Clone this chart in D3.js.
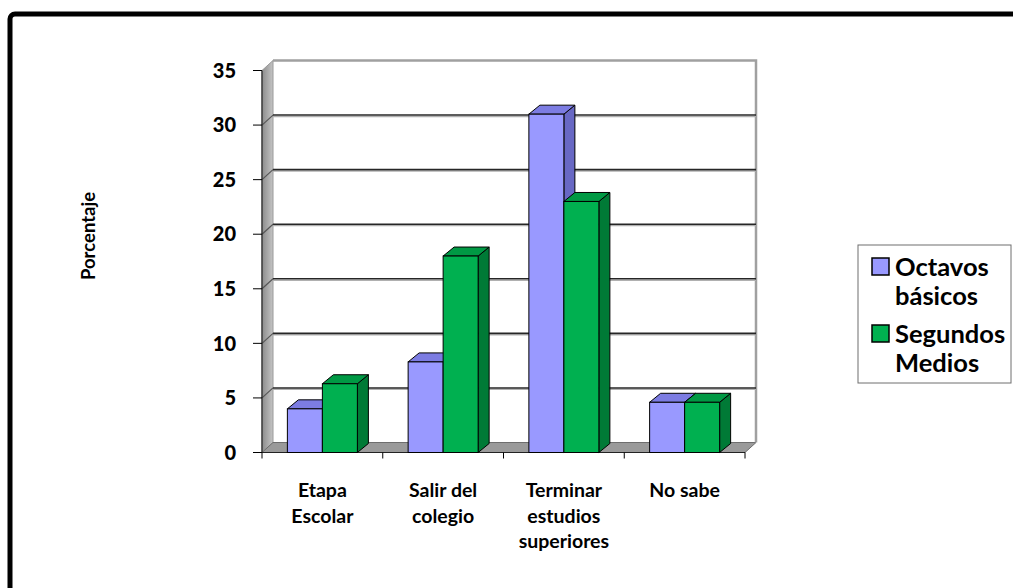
<!DOCTYPE html>
<html>
<head>
<meta charset="utf-8">
<script src="https://cdn.jsdelivr.net/npm/d3@7"></script>
<style>
  body { margin: 0; background: #fff; }
  text { font-family: Lato, "Open Sans", sans-serif; font-weight: bold; fill: #000; }
</style>
</head>
<body>
<svg id="chart" width="1013" height="588"></svg>
<script>
// data
const categories = [["Etapa", "Escolar"], ["Salir del", "colegio"], ["Terminar", "estudios", "superiores"], ["No sabe"]];
const seriesNames = [["Octavos", "básicos"], ["Segundos", "Medios"]];
const octavos = [4.0, 8.3, 31, 4.6];
const segundos = [6.3, 18, 23, 4.6];
const yTicks = [0, 5, 10, 15, 20, 25, 30, 35];

const colors = [
  { front: "#9999ff", side: "#6868c4", top: "#7c7ce2" },
  { front: "#00b050", side: "#007a36", top: "#009944" }
];

const svg = d3.select("#chart");

// outer frame, running off the right and bottom edges
svg.append("rect")
  .attr("x", 10).attr("y", 14)
  .attr("width", 1040).attr("height", 620)
  .attr("rx", 5)
  .attr("fill", "none")
  .attr("stroke", "#000")
  .attr("stroke-width", 5);

const plot = { left: 262, right: 745 };
const depth = { dx: 11, dy: -10 }; // wall depth
const barDepth = { dx: 11, dy: -9 };

const y = d3.scaleLinear().domain([0, 35]).range([452.5, 70.5]);
const x0 = d3.scaleBand().domain(d3.range(categories.length)).range([plot.left, plot.right]);
const x1 = d3.scaleBand().domain([0, 1]).range([0, x0.bandwidth()]).paddingInner(0).paddingOuter(0.725);

const g = svg.append("g");

// left side wall
const wallGrad = svg.append("defs").append("linearGradient")
  .attr("id", "wallGrad").attr("x1", "0%").attr("x2", "100%");
wallGrad.append("stop").attr("offset", "0%").attr("stop-color", "#8c8c8c");
wallGrad.append("stop").attr("offset", "100%").attr("stop-color", "#c4c4c4");

g.append("polygon")
  .attr("points", [
    [plot.left, y(0)], [plot.left, y(35)],
    [plot.left + depth.dx, y(35) + depth.dy], [plot.left + depth.dx, y(0) + depth.dy]
  ].join(" "))
  .attr("fill", "url(#wallGrad)")
  .attr("stroke", "#999");

// floor
g.append("polygon")
  .attr("points", [
    [plot.left, y(0)], [plot.right, y(0)],
    [plot.right + depth.dx, y(0) + depth.dy], [plot.left + depth.dx, y(0) + depth.dy]
  ].join(" "))
  .attr("fill", "#9a9a9a")
  .attr("stroke", "#6e6e6e");

// back wall outline
g.append("path")
  .attr("d", `M${plot.left + depth.dx},${y(35) + depth.dy}H${plot.right + depth.dx}V${y(0) + depth.dy}`)
  .attr("fill", "none")
  .attr("stroke", "#a0a0a0")
  .attr("stroke-width", 2.5);

// gridlines on the back wall and left wall
yTicks.filter(t => t > 0 && t < 35).forEach(t => {
  const yb = y(t) + depth.dy;
  g.append("line")
    .attr("x1", plot.left + depth.dx).attr("x2", plot.right + depth.dx)
    .attr("y1", yb + 1.5).attr("y2", yb + 1.5)
    .attr("stroke", "#b0b0b0").attr("stroke-width", 1.2);
  g.append("line")
    .attr("x1", plot.left + depth.dx).attr("x2", plot.right + depth.dx)
    .attr("y1", yb).attr("y2", yb)
    .attr("stroke", "#262626").attr("stroke-width", 1.6);
  g.append("line")
    .attr("x1", plot.left).attr("x2", plot.left + depth.dx)
    .attr("y1", y(t)).attr("y2", yb)
    .attr("stroke", "#555").attr("stroke-width", 1.2);
});

// y axis
g.append("line")
  .attr("x1", plot.left).attr("x2", plot.left)
  .attr("y1", y(35)).attr("y2", y(0))
  .attr("stroke", "#222").attr("stroke-width", 1.2);
yTicks.forEach(t => {
  g.append("line")
    .attr("x1", plot.left - 9).attr("x2", plot.left)
    .attr("y1", y(t)).attr("y2", y(t))
    .attr("stroke", "#000").attr("stroke-width", 1);
  g.append("text")
    .attr("x", 236).attr("y", y(t))
    .attr("dy", "0.36em")
    .attr("text-anchor", "end")
    .style("font-size", "20px")
    .style("font-weight", 900)
    .text(t);
});

// x axis
g.append("line")
  .attr("x1", plot.left).attr("x2", plot.right)
  .attr("y1", y(0)).attr("y2", y(0))
  .attr("stroke", "#222").attr("stroke-width", 1);
d3.range(categories.length + 1).forEach(i => {
  const xt = plot.left + i * x0.step();
  g.append("line")
    .attr("x1", xt).attr("x2", xt)
    .attr("y1", y(0)).attr("y2", y(0) + 6)
    .attr("stroke", "#000").attr("stroke-width", 1);
});

// bars
const seriesValues = [octavos, segundos];
categories.forEach((c, i) => {
  seriesValues.forEach((vals, s) => {
    const bx = x0(i) + x1(s);
    const bw = x1.bandwidth();
    const yt = y(vals[i]);
    const yb = y(0);
    const col = colors[s];
    const bar = g.append("g");
    bar.append("polygon")
      .attr("points", [
        [bx + bw, yb], [bx + bw, yt],
        [bx + bw + barDepth.dx, yt + barDepth.dy], [bx + bw + barDepth.dx, yb + barDepth.dy]
      ].join(" "))
      .attr("fill", col.side).attr("stroke", "#000").attr("stroke-width", 1);
    bar.append("polygon")
      .attr("points", [
        [bx, yt], [bx + barDepth.dx, yt + barDepth.dy],
        [bx + bw + barDepth.dx, yt + barDepth.dy], [bx + bw, yt]
      ].join(" "))
      .attr("fill", col.top).attr("stroke", "#000").attr("stroke-width", 1);
    bar.append("rect")
      .attr("x", bx).attr("y", yt)
      .attr("width", bw).attr("height", yb - yt)
      .attr("fill", col.front).attr("stroke", "#000").attr("stroke-width", 1);
  });
});

// category labels
categories.forEach((lines, i) => {
  const t = g.append("text")
    .attr("text-anchor", "middle")
    .style("font-size", "19.5px");
  lines.forEach((ln, k) => {
    t.append("tspan")
      .attr("x", x0(i) + x0.bandwidth() / 2)
      .attr("y", 497 + k * 25.5)
      .text(ln);
  });
});

// y axis title
g.append("text")
  .attr("transform", "translate(95,236) rotate(-90)")
  .attr("text-anchor", "middle")
  .style("font-size", "18.5px")
  .text("Porcentaje");

// legend
const legend = svg.append("g");
legend.append("rect")
  .attr("x", 858).attr("y", 245)
  .attr("width", 153).attr("height", 138)
  .attr("fill", "#fff")
  .attr("stroke", "#6e6e6e").attr("stroke-width", 1);
seriesNames.forEach((lines, s) => {
  const top = 258 + s * 67;
  legend.append("rect")
    .attr("x", 872).attr("y", top)
    .attr("width", 17).attr("height", 17)
    .attr("fill", colors[s].front)
    .attr("stroke", "#000").attr("stroke-width", 1.5);
  const t = legend.append("text").style("font-size", "25.5px");
  lines.forEach((ln, k) => {
    t.append("tspan")
      .attr("x", 895)
      .attr("y", top + 18 + k * 29)
      .text(ln);
  });
});
</script>
</body>
</html>
